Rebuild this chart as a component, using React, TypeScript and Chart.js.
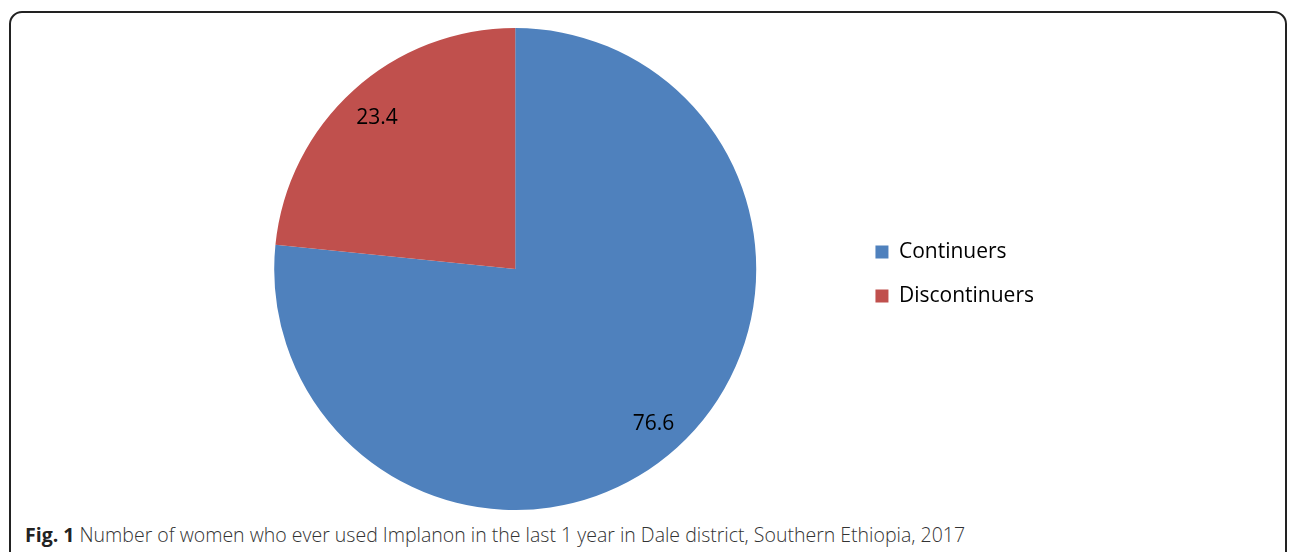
import React, { useEffect, useRef } from "react";
import { Chart, registerables } from "chart.js";

Chart.register(...registerables);

const categories = ["Continuers", "Discontinuers"];
const values = [76.6, 23.4];
const valueLabels = ["76.6", "23.4"];
const colors = ["#4F81BD", "#C0504D"];
const caption = "Number of women who ever used Implanon in the last 1 year in Dale district, Southern Ethiopia, 2017";

const labelPlugin = {
  id: "sliceLabels",
  afterDatasetsDraw(chart: any) {
    const ctx = chart.ctx;
    const meta = chart.getDatasetMeta(0);
    ctx.save();
    ctx.font = "21px 'Open Sans'";
    ctx.fillStyle = "#000";
    ctx.textAlign = "center";
    ctx.textBaseline = "middle";
    meta.data.forEach((arc: any, i: number) => {
      const p = arc.getProps(["x", "y", "startAngle", "endAngle", "outerRadius"], true);
      const mid = (p.startAngle + p.endAngle) / 2;
      const r = p.outerRadius * 0.855;
      ctx.fillText(valueLabels[i], p.x + Math.cos(mid) * r, p.y + Math.sin(mid) * r + 2);
    });
    ctx.restore();
  },
};

function PieChart() {
  const ref = useRef<HTMLCanvasElement | null>(null);
  useEffect(() => {
    if (!ref.current) return;
    const chart = new Chart(ref.current, {
      type: "pie",
      data: {
        labels: categories,
        datasets: [
          {
            data: values,
            backgroundColor: colors,
            borderWidth: 0,
          },
        ],
      },
      options: {
        animation: false,
        responsive: false,
        maintainAspectRatio: false,
        layout: { padding: 0 },
        plugins: {
          tooltip: { enabled: false },
          legend: {
            position: "right",
            align: "center",
            title: {
              display: true,
              text: " ",
              font: { size: 10, lineHeight: 1 },
              padding: 0,
            },
            labels: {
              boxWidth: 13,
              boxHeight: 13,
              padding: 23,
              color: "#000",
              font: { family: "'Open Sans'", size: 21 },
            },
          },
        },
      },
      plugins: [labelPlugin],
    });
    return () => chart.destroy();
  }, []);
  return (
    <canvas
      ref={ref}
      width={866}
      height={482}
      style={{ position: "absolute", left: 178, top: 28, width: 866, height: 482 }}
    />
  );
}

export default function App() {
  return (
    <div
      style={{
        position: "fixed",
        left: 0,
        top: 0,
        width: 1292,
        height: 552,
        background: "#fff",
        overflow: "hidden",
      }}
    >
      <div
        style={{
          position: "absolute",
          left: 9,
          top: 11,
          width: 1278,
          height: 620,
          border: "2px solid #222",
          borderRadius: 13,
          boxSizing: "border-box",
        }}
      />
      <PieChart />
      <div
        style={{
          position: "absolute",
          left: 25,
          top: 525,
          fontFamily: "'Open Sans'",
          fontSize: 19.5,
          fontWeight: 300,
          lineHeight: "19px",
          color: "#333",
          whiteSpace: "nowrap",
        }}
      >
        <span style={{ fontWeight: 700, color: "#222" }}>Fig. 1</span> {caption}
      </div>
    </div>
  );
}
